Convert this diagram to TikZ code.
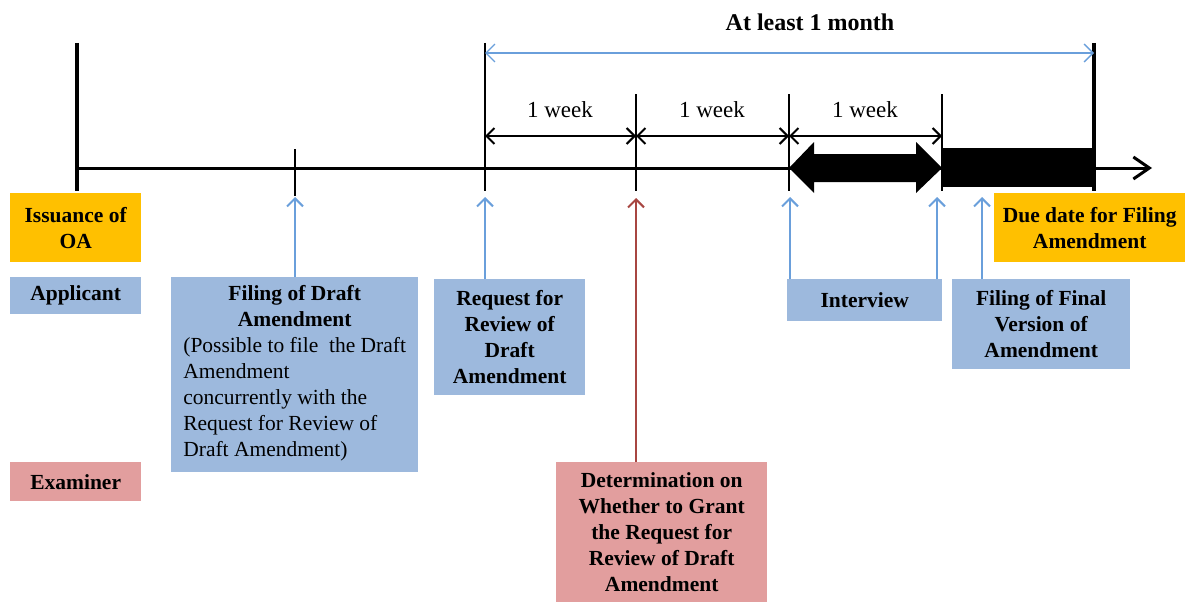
\documentclass[tikz,border=0pt]{standalone}
\usepackage{fontspec}
\setmainfont{Liberation Serif}
\usetikzlibrary{arrows.meta}
\definecolor{boxblue}{HTML}{9DB9DD}
\definecolor{boxpink}{HTML}{E29E9E}
\definecolor{boxorange}{HTML}{FFC000}
\definecolor{arrblue}{HTML}{6A9FDB}
\definecolor{arrred}{HTML}{A84641}
\begin{document}
\begin{tikzpicture}[x=1pt,y=-1pt,
  txt/.style={font=\fontsize{23}{26}\selectfont},
  btxt/.style={font=\fontsize{21.5}{26}\selectfont\bfseries},
  box/.style={btxt, inner sep=0pt, align=center, anchor=north west, text=black},
  bluebox/.style={box, fill=boxblue},
  pinkbox/.style={box, fill=boxpink},
  orangebox/.style={box, fill=boxorange},
  thickbar/.style={line width=4pt},
  tick/.style={line width=2pt},
  dim/.style={line width=2pt, {Straight Barb[length=8pt,width=16pt]}-{Straight Barb[length=8pt,width=16pt]}},
  barrow/.style={arrblue, line width=2pt, -{Straight Barb[length=8pt,width=16pt]}},
  rarrow/.style={arrred, line width=2pt, -{Straight Barb[length=8pt,width=16pt]}},
  monthline/.style={arrblue, line width=1.3pt, {Straight Barb[length=9pt,width=18pt]}-{Straight Barb[length=9pt,width=18pt]}},
]
\useasboundingbox (0,0) rectangle (1190,602);

% key coordinates
\coordinate (oaTop) at (77,43);
\coordinate (oaBot) at (77,191);
\coordinate (dueTop) at (1094,43);
\coordinate (dueBot) at (1094,191);
\coordinate (tlStart) at (77,168);
\coordinate (tlEnd) at (1152,168);
\coordinate (aTop) at (295,149);
\coordinate (aBot) at (295,196);
\coordinate (bTop) at (485,43);
\coordinate (bBot) at (485,191);
\coordinate (cTop) at (636,94);
\coordinate (cBot) at (636,191);
\coordinate (dTop) at (789,94);
\coordinate (dBot) at (789,191);
\coordinate (eTop) at (942,94);
\coordinate (eBot) at (942,191);
\coordinate (bDim) at (485,136);
\coordinate (cDim) at (636,136);
\coordinate (dDim) at (789,136);
\coordinate (eDim) at (942,136);
\coordinate (bMon) at (485,53);
\coordinate (dueMon) at (1094,53);
\coordinate (tipA) at (295,197);
\coordinate (tipB) at (485,197);
\coordinate (tipC) at (636,198);
\coordinate (tipD) at (790,197);
\coordinate (tipE) at (937,197);
\coordinate (tipF) at (982,197);

% timeline
\draw[line width=3pt, -{Straight Barb[length=16pt,width=22pt]}] (tlStart) -- (tlEnd);
\draw[thickbar] (oaTop) -- (oaBot);
\draw[thickbar] (dueTop) -- (dueBot);
\draw[tick] (aTop) -- (aBot);
\draw[tick] (bTop) -- (bBot);
\draw[tick] (cTop) -- (cBot);
\draw[tick] (dTop) -- (dBot);
\draw[tick] (eTop) -- (eBot);

% block double arrow (interview period)
\fill (789,168) -- (814,142) -- (814,154) -- (916,154) -- (916,142) -- (942,168)
  -- (916,193) -- (916,182) -- (814,182) -- (814,193) -- cycle;
% final filing period
\fill (942,148) rectangle (1094,187);

% dimension lines
\draw[dim] (bDim) -- (cDim);
\draw[dim] (cDim) -- (dDim);
\draw[dim] (dDim) -- (eDim);
\node[txt] (w1) at (560,110) {1 week};
\node[txt] (w2) at (712,110) {1 week};
\node[txt] (w3) at (865,110) {1 week};

\draw[monthline] (bMon) -- (dueMon);
\node[btxt, font=\fontsize{24}{26}\selectfont\bfseries] (month) at (810,22) {At least 1 month};

% boxes
\node[orangebox, minimum width=131pt, minimum height=69pt] (issue) at (10,193) {Issuance of\\OA};
\node[orangebox, minimum width=191pt, minimum height=69pt] (due) at (994,193) {Due date for Filing\\Amendment};
\node[bluebox, minimum width=131pt, minimum height=37pt] (applicant) at (10,277) {Applicant};
\node[pinkbox, minimum width=131pt, minimum height=39pt] (examiner) at (10,462) {Examiner};
\node[bluebox, minimum width=247pt, minimum height=195pt] (filing) at (171,277)
  {Filing of Draft\\Amendment\\
   \mdseries\begin{tabular}[t]{@{}l@{}}(Possible to file\ \ the Draft\\Amendment\\concurrently with the\\Request for Review of\\Draft Amendment)\end{tabular}};
\node[bluebox, minimum width=151pt, minimum height=116pt] (request) at (434,279) {Request for\\Review of\\Draft\\Amendment};
\node[pinkbox, minimum width=211pt, minimum height=140pt] (determ) at (556,462) {Determination on\\Whether to Grant\\the Request for\\Review of Draft\\Amendment};
\node[bluebox, minimum width=155pt, minimum height=42pt] (interview) at (787,279) {Interview};
\node[bluebox, minimum width=178pt, minimum height=90pt] (final) at (952,279) {Filing of Final\\Version of\\Amendment};

% connectors
\draw[barrow] (tipA |- filing.north) -- (tipA);
\draw[barrow] (tipB |- request.north) -- (tipB);
\draw[rarrow] (tipC |- determ.north) -- (tipC);
\draw[barrow] (tipD |- interview.north) -- (tipD);
\draw[barrow] (tipE |- interview.north) -- (tipE);
\draw[barrow] (tipF |- final.north) -- (tipF);
\end{tikzpicture}
\end{document}
